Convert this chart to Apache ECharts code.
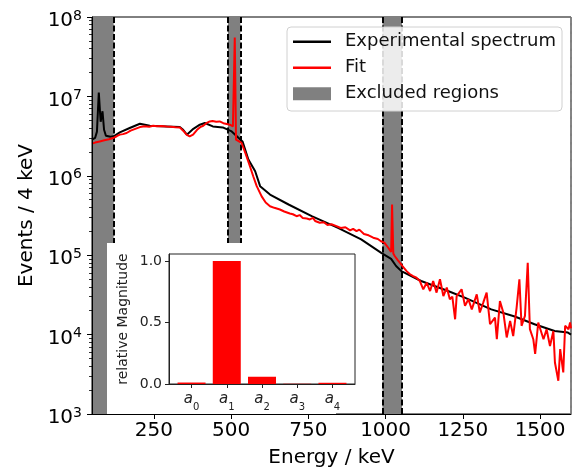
<!DOCTYPE html>
<html><head><meta charset="utf-8">
<script src="https://cdn.jsdelivr.net/npm/echarts@6/dist/echarts.min.js"></script>
<style>html,body{margin:0;padding:0;background:#fff}#c{width:575px;height:473px}</style>
</head><body><div id="c"></div>
<script>
// ---- data ----
const expEnergy = [50,60,66,72,78,84,89,95,110,120,140,172,205,211,237,291,334,345,357,378,399,415,441,473,502,537,556,578,594,626,686,761,846,921,986,1018,1034,1051,1115,1202,1256,1342,1418,1482,1547,1590,1600];
const expCounts = [2.85e6,3.0e6,3.6e6,1.12e7,4.8e6,6.5e6,3.8e6,3.2e6,3.1e6,3.15e6,3.52e6,4.0e6,4.53e6,4.7e6,4.27e6,4.19e6,4.11e6,3.8e6,3.3e6,3.9e6,4.4e6,4.62e6,4.19e6,4.07e6,3.62e6,2.71e6,1.6e6,1.14e6,7.4e5,5.8e5,4.35e5,3.1e5,2.21e5,1.58e5,1.07e5,9.0e4,7.3e4,6.3e4,4.73e4,3.54e4,2.92e4,2.08e4,1.69e4,1.35e4,1.11e4,1.06e4,1.0e4];
const fitEnergy = [50,60,75,90,105,118,130,140,150,162,175,190,205,220,235,248,260,275,291,305,320,334,345,356,366,377,390,400,410,420,431,440,452,463,475,486,496,506,508,512,516,520,534,547,561,572,583,599,612,626,640,658,672,690,700,712,722,732,745,755,765,772,787,800,812,825,841,855,870,885,895,906,915,930,945,960,975,985,996,1008,1014,1018,1021,1025,1030,1040,1046,1056,1068,1078,1089,1100,1111,1122,1133,1144,1154,1165,1176,1187,1198,1208,1216,1225,1230,1246,1257,1268,1279,1295,1305,1316,1327,1338,1354,1360,1370,1381,1392,1403,1413,1424,1433,1440,1451,1460,1467,1478,1484,1494,1511,1521,1532,1543,1548,1559,1565,1575,1581,1592,1597,1600];
const fitCounts = [2.54e6,2.62e6,2.71e6,2.8e6,2.88e6,2.99e6,3.15e6,3.3e6,3.35e6,3.46e6,3.7e6,3.9e6,4.11e6,4.2e6,4.15e6,4.27e6,4.2e6,4.25e6,4.19e6,4.15e6,4.1e6,4.07e6,3.7e6,3.3e6,3.13e6,3.3e6,3.8e6,4.1e6,4.27e6,4.6e6,4.84e6,4.9e6,4.8e6,4.84e6,4.6e6,4.5e6,4.4e6,4.19e6,4.1e6,5.5e7,2.85e6,2.8e6,2.59e6,1.9e6,1.32e6,9.8e5,7.4e5,5.5e5,4.6e5,4.14e5,3.95e5,3.76e5,3.55e5,3.35e5,3.28e5,3.1e5,3.2e5,2.95e5,2.9e5,2.82e5,2.95e5,2.7e5,2.56e5,2.6e5,2.4e5,2.45e5,2.32e5,2.2e5,2.25e5,2.05e5,2.15e5,2.01e5,2.1e5,1.85e5,1.78e5,1.66e5,1.6e5,1.5e5,1.44e5,1.25e5,1.18e5,1.1e5,4.35e5,1.05e5,9.7e4,8.6e4,8.05e4,7.2e4,6.3e4,5.8e4,5.46e4,5.2e4,4.73e4,3.72e4,4.5e4,3.54e4,4.73e4,3.38e4,4.97e4,3.06e4,3.91e4,2.79e4,3.0e4,1.56e4,3.06e4,3.72e4,2.3e4,2.79e4,2.08e4,3.21e4,1.9e4,2.53e4,3.38e4,1.35e4,1.64e4,8.75e3,2.65e4,1.9e4,9.2e3,1.49e4,9.6e3,2.19e4,4.97e4,1.29e4,1.72e4,8.05e4,1.17e4,8.75e3,5.7e3,1.42e4,8.75e3,1.17e4,7.2e3,1.11e4,4.46e3,2.62e3,6.56e3,3.34e3,1.29e4,1.17e4,1.42e4,1.2e4];
const excludedRegions = [[50,120],[490,530],[990,1053]];
const dashedEdges = [120,490,530,990,1053];
const xTicks = [250,500,750,1000,1250,1500];
const yTicks = [1e3,1e4,1e5,1e6,1e7,1e8];
const coefNames = ['0','1','2','3','4'];
const coefValues = [0.012,1.0,0.059,0.002,0.01];
const insetTicks = [0,0.5,1.0];

const FONT = 'DejaVu Sans';
const yMinor = [];
for (let d = 0; d < yTicks.length - 1; d++) for (let m = 2; m <= 9; m++) yMinor.push(m * yTicks[d]);
const zip = (a, b) => a.map((v, i) => [v, b[i]]);

const chart = echarts.init(document.getElementById('c'), null, {renderer: 'canvas'});
const black = '#000';
chart.setOption({
  animation: false,
  textStyle: {fontFamily: FONT},
  grid: [
    {left: 92, top: 17, right: 4, bottom: 58, show: true, borderColor: black, borderWidth: 1, backgroundColor: 'transparent'},
    {left: 169, top: 254, width: 186, height: 130, show: true, borderColor: '#222', borderWidth: 1, backgroundColor: '#fff', z: 30}
  ],
  xAxis: [
    {type: 'value', gridIndex: 0, min: 50, max: 1600, z: 20,
     axisLine: {lineStyle: {color: black, width: 1}},
     axisTick: {customValues: xTicks, length: 5, lineStyle: {color: black, width: 1}},
     axisLabel: {customValues: xTicks, formatter: v => String(v), fontSize: 20, color: black, margin: 7, fontFamily: FONT},
     splitLine: {show: false},
     name: 'Energy / keV', nameLocation: 'middle', nameGap: 34,
     nameTextStyle: {fontSize: 20, color: black, fontFamily: FONT}},
    {type: 'value', gridIndex: 1, min: -0.64, max: 4.64, z: 31,
     axisLine: {onZero: false, lineStyle: {color: '#222', width: 1}},
     axisTick: {customValues: [0,1,2,3,4], length: 4, lineStyle: {color: '#222'}},
     axisLabel: {customValues: [0,1,2,3,4], margin: 8,
       formatter: v => '{i|a}{n|' + coefNames[Math.round(v)] + '}',
       rich: {i: {fontSize: 15, fontStyle: 'italic', fontFamily: FONT, color: '#222', verticalAlign: 'top', lineHeight: 20},
              n: {fontSize: 10, fontFamily: FONT, color: '#222', verticalAlign: 'bottom', lineHeight: 20}}},
     splitLine: {show: false}}
  ],
  yAxis: [
    {type: 'log', logBase: 10, gridIndex: 0, min: 1e3, max: 1e8, z: 20,
     axisLine: {show: true, lineStyle: {color: black, width: 1}},
     axisTick: {customValues: yTicks, length: 5, lineStyle: {color: black, width: 1}},
     axisLabel: {customValues: yTicks, margin: 10, padding: [6, 0, 0, 0],
       formatter: v => '{b|10}{s|' + Math.round(Math.log10(v)) + '}',
       rich: {b: {fontSize: 20, fontFamily: FONT, color: black, verticalAlign: 'bottom', lineHeight: 22},
              s: {fontSize: 14, fontFamily: FONT, color: black, verticalAlign: 'top', lineHeight: 22}}},
     splitLine: {show: false}, minorTick: {show: false},
     name: 'Events / 4 keV', nameLocation: 'middle', nameGap: 54,
     nameTextStyle: {fontSize: 20, color: black, fontFamily: FONT}},
    {type: 'log', logBase: 10, gridIndex: 0, min: 1e3, max: 1e8, position: 'left', z: 20,
     axisLine: {show: false}, axisLabel: {show: false}, splitLine: {show: false},
     axisTick: {customValues: yMinor, length: 3, lineStyle: {color: black, width: 0.8}}},
    {type: 'value', gridIndex: 1, min: 0, max: 1.057, z: 31,
     axisLine: {show: true, onZero: false, lineStyle: {color: '#222', width: 1}},
     axisTick: {customValues: insetTicks, length: 4, lineStyle: {color: '#222'}},
     axisLabel: {customValues: insetTicks, formatter: v => v.toFixed(1), fontSize: 14, color: '#222', margin: 7, fontFamily: FONT},
     splitLine: {show: false},
     name: 'relative Magnitude', nameLocation: 'middle', nameGap: 39,
     nameTextStyle: {fontSize: 14, color: '#222', fontFamily: FONT}}
  ],
  legend: [
    {left: 293, top: 31.7, padding: 0, itemWidth: 38, itemHeight: 2.5, icon: 'rect', selectedMode: false, z: 41,
     data: [{name: 'Experimental spectrum', itemStyle: {color: black}}],
     textStyle: {fontSize: 18, color: '#111', fontFamily: FONT, lineHeight: 20, padding: [0, 0, 0, 9]}},
    {left: 293, top: 57.7, padding: 0, itemWidth: 38, itemHeight: 2.5, icon: 'rect', selectedMode: false, z: 41,
     data: [{name: 'Fit', itemStyle: {color: '#ff0000'}}],
     textStyle: {fontSize: 18, color: '#111', fontFamily: FONT, lineHeight: 20, padding: [0, 0, 0, 9]}},
    {left: 293, top: 83.7, padding: 0, itemWidth: 38, itemHeight: 13, icon: 'rect', selectedMode: false, z: 41,
     data: [{name: 'Excluded regions', itemStyle: {color: '#808080'}}],
     textStyle: {fontSize: 18, color: '#111', fontFamily: FONT, lineHeight: 20, padding: [0, 0, 0, 9]}}
  ],
  graphic: [
    {type: 'rect', z: 10, silent: true, shape: {x: 107, y: 243, width: 229, height: 171}, style: {fill: '#fff'}},
    {type: 'rect', z: 40, silent: true, shape: {x: 287, y: 27, width: 275, height: 84, r: 4},
     style: {fill: 'rgba(255,255,255,0.85)', stroke: '#d0d0d0', lineWidth: 1}}
  ],
  series: [
    {name: 'Excluded regions', type: 'line', xAxisIndex: 0, yAxisIndex: 0, data: [], z: 1,
     color: '#808080', itemStyle: {color: '#808080'},
     markArea: {silent: true, z: 1, itemStyle: {color: '#808080', opacity: 1},
       data: excludedRegions.map(r => [{xAxis: r[0]}, {xAxis: r[1]}])},
     markLine: {silent: true, z: 2, symbol: 'none', label: {show: false}, animation: false,
       lineStyle: {type: [6, 2.5], color: black, width: 2},
       data: dashedEdges.map(e => ({xAxis: e})).concat([{xAxis: 1599, lineStyle: {color: '#888', width: 1.5, type: [6, 2.5]}}])}},
    {name: 'Experimental spectrum', type: 'line', xAxisIndex: 0, yAxisIndex: 0, data: zip(expEnergy, expCounts),
     showSymbol: false, symbol: 'none', color: black, lineStyle: {color: black, width: 2}, z: 3},
    {name: 'Fit', type: 'line', xAxisIndex: 0, yAxisIndex: 0, data: zip(fitEnergy, fitCounts),
     showSymbol: false, symbol: 'none', color: '#ff0000', lineStyle: {color: '#ff0000', width: 2}, z: 4},
    {name: 'coef', type: 'bar', xAxisIndex: 1, yAxisIndex: 2, data: coefValues.map((v, i) => [i, v]),
     barWidth: 28, itemStyle: {color: '#ff0000'}, z: 30}
  ]
});
</script>
</body></html>
